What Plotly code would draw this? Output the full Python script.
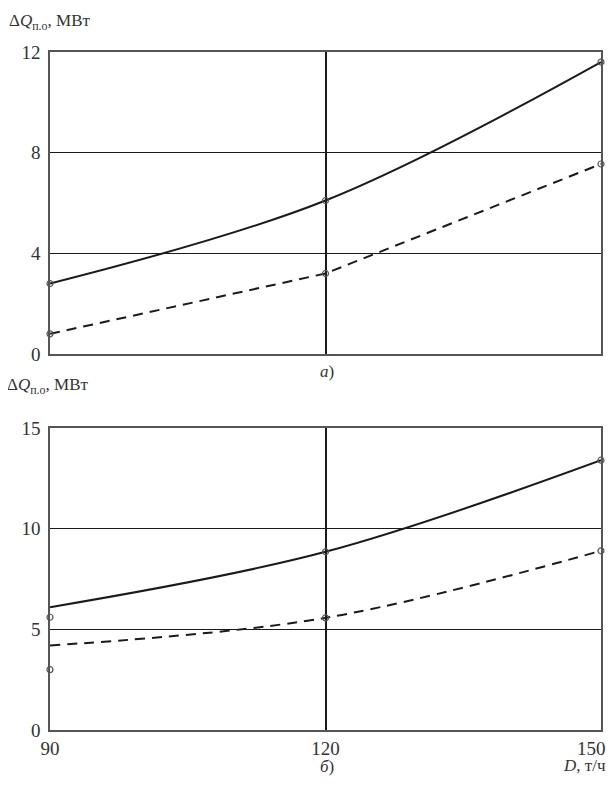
import plotly.graph_objects as go

D = [90, 120, 150]
# Panel a)
a_solid = [2.8, 6.1, 11.6]
a_dash = [0.8, 3.2, 7.55]
# Panel b)
b_solid = [6.1, 8.85, 13.4]
b_dash = [4.2, 5.57, 8.9]
b_solid_pts_D = [120, 150]
b_solid_pts = [8.85, 13.4]
b_dash_pts_D = [120, 150]
b_dash_pts = [5.57, 8.9]
b_extra_D = [90, 90]
b_extra = [5.6, 3.0]

a_ticks = [0, 4, 8, 12]
b_ticks = [0, 5, 10, 15]
x_ticks = [90, 120, 150]
x_ticktext = ["90", "120", ""]   # "150" drawn as an annotation so it stays inside the page
last_tick_label = "150"

ink = "#1a1a1a"
font_serif = "Liberation Serif"
mk = dict(symbol="circle-open", size=6, color="#555", line=dict(width=1.2, color="#555"))

fig = go.Figure()

def line(x, y, dash, xa, ya, shape="spline"):
    fig.add_trace(go.Scatter(x=x, y=y, mode="lines",
                             line=dict(color=ink, width=2, dash=dash, shape=shape),
                             xaxis=xa, yaxis=ya, showlegend=False, hoverinfo="skip"))

def pts(x, y, xa, ya):
    fig.add_trace(go.Scatter(x=x, y=y, mode="markers", marker=mk, xaxis=xa, yaxis=ya,
                             showlegend=False, hoverinfo="skip", cliponaxis=False))

line(D, a_solid, "solid", "x", "y")
line(D, a_dash, "10px,7px", "x", "y", shape="linear")
pts(D, a_solid, "x", "y")
pts(D, a_dash, "x", "y")

line(D, b_solid, "solid", "x2", "y2")
line(D, b_dash, "10px,7px", "x2", "y2")
pts(b_solid_pts_D, b_solid_pts, "x2", "y2")
pts(b_dash_pts_D, b_dash_pts, "x2", "y2")
pts(b_extra_D, b_extra, "x2", "y2")

OFF = 8  # page body margin
W, H = 615 - 2 * OFF, 788 - OFF


def px(p):
    return (p - OFF) / W


def py(p):
    return 1 - (p - OFF) / H


xd = [px(50), px(601)]
ya_dom = [py(354), py(52)]
yb_dom = [py(730), py(428)]

tfont = dict(family=font_serif, size=19, color="#333")
common_x = dict(range=[90, 150], tickvals=x_ticks, ticktext=x_ticktext, showgrid=True,
                gridcolor=ink, gridwidth=1.8,
                showline=True, mirror=True, linecolor="#555", linewidth=1.5, zeroline=False,
                ticks="", tickfont=tfont, domain=xd, automargin=False, ticklabelstandoff=0,
                ticklabeloverflow="allow")
common_y = dict(showgrid=True, gridcolor=ink, gridwidth=1.3, showline=True, mirror=True,
                linecolor="#555", linewidth=1.5, zeroline=False, ticks="", automargin=False,
                tickfont=tfont, ticklabelstandoff=4, ticklabeloverflow="allow")

fig.update_layout(
    width=W, height=H, margin=dict(l=0, r=0, t=0, b=0, autoexpand=False),
    paper_bgcolor="white", plot_bgcolor="white",
    xaxis=dict(common_x, anchor="y", showticklabels=False),
    yaxis=dict(common_y, range=[0, 12], tickvals=a_ticks, domain=ya_dom, anchor="x"),
    xaxis2=dict(common_x, anchor="y2", showticklabels=True),
    yaxis2=dict(common_y, range=[0, 15], tickvals=b_ticks, domain=yb_dom, anchor="x2"),
    font=dict(family=font_serif, color="#333"),
)

ann_font = dict(family=font_serif, size=17, color="#333")
fig.add_annotation(x=px(8), y=py(10), xref="paper", yref="paper", xanchor="left", yanchor="top",
                   text="Δ<i>Q</i><sub>п.о</sub>, МВт", showarrow=False, font=ann_font, borderpad=0)
fig.add_annotation(x=px(5), y=py(386), xref="paper", yref="paper", xanchor="left", yanchor="middle",
                   text="Δ<i>Q</i><sub>п.о</sub>, МВт", showarrow=False, font=ann_font)
fig.add_annotation(x=px(327), y=py(371), xref="paper", yref="paper", xanchor="center", yanchor="middle",
                   text="<i>а</i>)", showarrow=False, font=ann_font)
fig.add_annotation(x=px(327), y=py(766), xref="paper", yref="paper", xanchor="center", yanchor="middle",
                   text="<i>б</i>)", showarrow=False, font=ann_font)
fig.add_annotation(x=px(607), y=py(765), xref="paper", yref="paper", xanchor="right", yanchor="middle",
                   text="<i>D</i>, т/ч", showarrow=False, font=ann_font, borderpad=0)
fig.add_annotation(x=1.0, y=py(748), xref="paper", yref="paper", xanchor="right", yanchor="middle",
                   text=last_tick_label, showarrow=False, font=tfont, borderpad=0)

fig.write_html("out.html")
